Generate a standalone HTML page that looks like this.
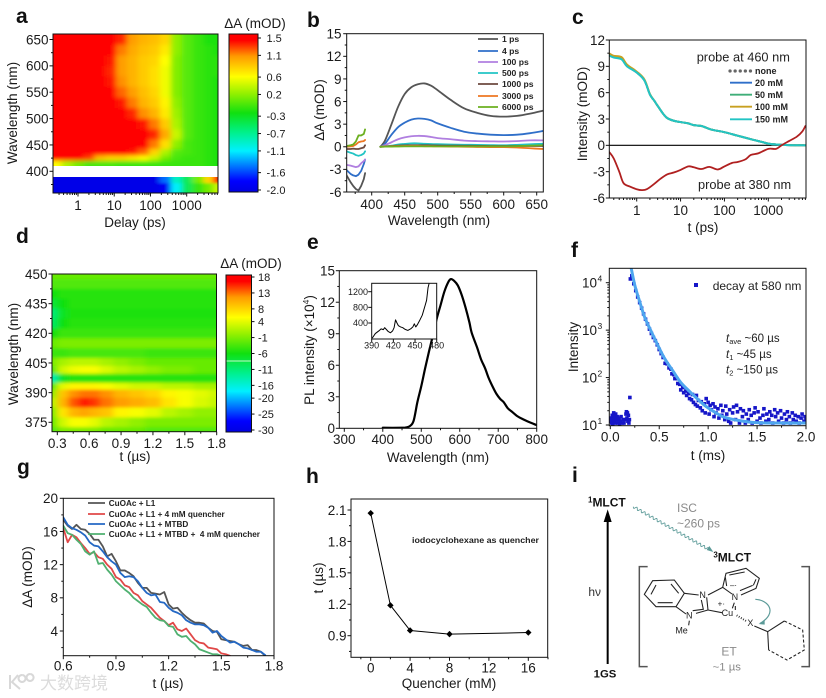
<!DOCTYPE html>
<html lang="en">
<head>
<meta charset="utf-8">
<title>Transient absorption figure</title>
<style>
html,body{margin:0;padding:0;background:#fff;}
svg{display:block;font-family:"Liberation Sans","Noto Sans CJK SC",sans-serif;fill:#1a1a1a;}
.tt{font-size:13.5px;text-anchor:middle;}
.pl{font-size:21px;font-weight:bold;fill:#111;}
.lg{font-weight:bold;fill:#222;white-space:pre;}
.an{fill:#222;}
</style>
</head>
<body>
<svg id="figure" xmlns="http://www.w3.org/2000/svg" width="826" height="698" viewBox="0 0 826 698">
<defs>
<filter id="softA" x="-5%" y="-5%" width="110%" height="110%"><feGaussianBlur stdDeviation="3 2.2"/></filter>
<filter id="softALow" x="-5%" y="-20%" width="110%" height="140%"><feGaussianBlur stdDeviation="3 1.2"/></filter>
<filter id="softD" x="-5%" y="-5%" width="110%" height="110%"><feGaussianBlur stdDeviation="3.5 1.6"/></filter>
<clipPath id="clipAUp"><rect x="53" y="34" width="165" height="132"/></clipPath>
<clipPath id="clipALow"><rect x="53" y="177" width="165" height="16"/></clipPath>
<clipPath id="clipD"><rect x="52" y="274" width="164.5" height="157.5"/></clipPath>
<clipPath id="clipB"><rect x="346.7" y="33.7" width="196.6" height="158.3"/></clipPath>
<clipPath id="clipC"><rect x="609.3" y="40" width="196.7" height="158"/></clipPath>
<clipPath id="clipE"><rect x="339.3" y="270.7" width="197.4" height="157.6"/></clipPath>
<clipPath id="clipInset"><rect x="371.7" y="283.3" width="65" height="55.7"/></clipPath>
<clipPath id="clipF"><rect x="609.3" y="268.3" width="196.7" height="158"/></clipPath>
<clipPath id="clipG"><rect x="63.3" y="498.3" width="210.7" height="157.4"/></clipPath>
<linearGradient id="rampA" x1="0" y1="1" x2="0" y2="0"></linearGradient>
<linearGradient id="rampD" x1="0" y1="1" x2="0" y2="0"></linearGradient>
</defs>

<g id="panelA">
<text class="pl" x="16" y="23">a</text>
<text class="tt" transform="translate(17,113) rotate(-90)">Wavelength (nm)</text>
<text class="tt" x="135" y="227">Delay (ps)</text>
<text class="tt" x="255" y="28">ΔA (mOD)</text>
</g>

<g id="panelB">
<text class="pl" x="307" y="27">b</text>
<text class="tt" transform="translate(324,110) rotate(-90)">ΔA (mOD)</text>
<text class="tt" x="439" y="225">Wavelength (nm)</text>
</g>

<g id="panelC">
<text class="pl" x="572" y="24">c</text>
<text class="tt" transform="translate(587,114) rotate(-90)">Intensity (mOD)</text>
<text class="tt" x="703" y="232">t (ps)</text>
<text class="an" x="696.7" y="61.5" font-size="12.8">probe at 460 nm</text>
<text class="an" x="698" y="189" font-size="12.8">probe at 380 nm</text>
</g>

<g id="panelD">
<text class="pl" x="16" y="243">d</text>
<text class="tt" transform="translate(18,354) rotate(-90)">Wavelength (nm)</text>
<text class="tt" x="135" y="461">t (µs)</text>
<text class="tt" x="251" y="268">ΔA (mOD)</text>
</g>

<g id="panelE">
<text class="pl" x="307" y="249">e</text>
<text class="tt" transform="translate(314,350) rotate(-90)">PL intensity (×10<tspan font-size="8.5" dy="-5">4</tspan><tspan dy="5">)</tspan></text>
<text class="tt" x="438" y="462">Wavelength (nm)</text>
</g>

<g id="panelF">
<text class="pl" x="571" y="257">f</text>
<text class="tt" transform="translate(578,347) rotate(-90)">Intensity</text>
<text class="tt" x="708" y="460">t (ms)</text>
<text class="an" x="712.7" y="290" font-size="12">decay at 580 nm</text>
<text class="an" x="726" y="342" font-size="11.5"><tspan font-style="italic">t</tspan><tspan font-size="7.5" dy="2">ave</tspan><tspan dy="-2"> ~60 µs</tspan></text>
<text class="an" x="726" y="358" font-size="11.5"><tspan font-style="italic">t</tspan><tspan font-size="7.5" dy="2">1</tspan><tspan dy="-2"> ~45 µs</tspan></text>
<text class="an" x="726" y="373.5" font-size="11.5"><tspan font-style="italic">t</tspan><tspan font-size="7.5" dy="2">2</tspan><tspan dy="-2"> ~150 µs</tspan></text>
</g>

<g id="panelG">
<text class="pl" x="17" y="474">g</text>
<text class="tt" transform="translate(32,577) rotate(-90)">ΔA (mOD)</text>
<text class="tt" x="168" y="688">t (µs)</text>
</g>

<g id="panelH">
<text class="pl" x="306" y="483">h</text>
<text class="tt" transform="translate(323,578) rotate(-90)">t (µs)</text>
<text class="tt" x="449" y="688">Quencher (mM)</text>
<text class="lg" x="412" y="543" font-size="7.8" textLength="127" lengthAdjust="spacingAndGlyphs">iodocyclohexane as quencher</text>
</g>

<g id="panelI">
<text class="pl" x="572" y="482">i</text>
<g transform="translate(556,460) scale(0.33333)">
<text x="96" y="140" font-size="36" font-weight="bold" fill="#111"><tspan font-size="24" dy="-12">1</tspan><tspan dy="12">MLCT</tspan></text>
<text x="472" y="304" font-size="36" font-weight="bold" fill="#111"><tspan font-size="24" dy="-12">3</tspan><tspan dy="12">MLCT</tspan></text>
<text x="113" y="652" font-size="34" font-weight="bold" fill="#111">1GS</text>
<text x="97" y="408" font-size="36" fill="#333">hν</text>
<text x="363" y="156" font-size="36" fill="#8a8a8a">ISC</text>
<text x="363" y="202" font-size="36" fill="#8a8a8a">~260 ps</text>
<text x="496" y="586" font-size="36" fill="#8a8a8a">ET</text>
<text x="470" y="632" font-size="34" fill="#8a8a8a">~1 µs</text>
<line x1="155" y1="612" x2="155" y2="175" stroke="#000" stroke-width="6"/>
<polygon points="155,148 143,186 167,186" fill="#000"/>
<path id="iscWave" fill="none" stroke="#5b9a98" stroke-width="2.6"/>
<polygon points="472,276 452,270 460,258" fill="#5b9a98"/>
<path d="M275,320 H250 V620 H275" fill="none" stroke="#555" stroke-width="4.5"/>
<path d="M736,320 H760 V620 H736" fill="none" stroke="#555" stroke-width="4.5"/>
<g fill="none" stroke="#222" stroke-width="3.2">
<polygon points="265,403 290,362 355,360 385,400 360,440 300,440"/>
<path d="M285,403 L300,375 M345,372 L368,400 M305,428 L350,428"/>
<path d="M385,400 L428,405 M452,412 L456,450 L420,460 M390,462 L360,440"/>
<path d="M436,420 L442,448 L410,452"/>
<path d="M456,405 L500,382 L510,340 L570,325 L610,355 L600,385 L555,405 M528,402 L500,382"/>
<path d="M520,345 L566,336 M600,358 L592,376 M512,378 L508,352 M552,392 L590,376"/>
<path d="M456,450 L498,458"/>
<path d="M535,428 L529,445 M538,438 L538,450"/>
<path d="M400,482 L398,496"/>
<path d="M595,498 L635,515 L685,483"/>
<path d="M635,515 L638,570"/>
<path d="M685,483 L740,510 L745,570 L693,600 L638,570" stroke-dasharray="9 6"/>
<path d="M542,466 L572,484" stroke-dasharray="2.5 5" stroke-width="6"/>
</g>
<path d="M598,418 C640,420 665,460 612,490" fill="none" stroke="#5b9a98" stroke-width="3.5"/>
<polygon points="608,492 626,480 626,494" fill="#5b9a98"/>
<g font-size="27" fill="#222">
<text x="430" y="414">N</text>
<text x="527" y="420">N</text>
<text x="390" y="476">N</text>
<text x="497" y="468">Cu</text>
<text x="574" y="498">X</text>
<text x="358" y="520">Me</text>
<text x="485" y="440" font-size="24">+·</text>
<text x="522" y="384" font-size="24">–·</text>
</g>
</g>
</g>

<g id="watermark">
<path d="M10,675 V689 M18,675 L12,682 L20,689 M22,675 a3.5,3.5 0 1 0 0.1,0 M30,674 a3.5,3.5 0 1 0 0.1,0" fill="none" stroke="#d8d8d8" stroke-width="2"/>
<text x="40" y="689" font-size="17" fill="#dcdcdc" font-family="'Noto Sans CJK SC',sans-serif">大数跨境</text>
</g>
</svg>

<script>
/* ---------- shared colour ramp ---------- */
const rampStops = [0, .07, .26, .38, .5, .62, .73, .86, .96, 1];
const rampColors = ['#0000e0','#0000ff','#00f0ff','#00f088','#10e010','#90f000','#ffff00','#ff9900','#ff0000','#ff0000'];

/* ---------- panel a data ---------- */
const aDelays = [.25,.5,1,2,4,8,16,32,64,128,256,512,1024,2048,4096,7000];
const aUpperWavelengths = [650,630,610,590,570,550,530,510,490,470,450,435,425,415];
const aUpperValues = [
[1.5,1.5,1.5,1.5,1.5,1.6,1.35,1.05,.95,.9,.8,.2,0,-.1,-.2,-.2],
[1.5,1.5,1.5,1.5,1.5,1.5,1.15,1.0,.9,.85,.7,.2,0,-.1,-.15,-.2],
[1.5,1.5,1.5,1.5,1.5,1.4,1.05,.95,.85,.8,.6,.15,0,-.1,-.15,-.15],
[1.5,1.5,1.5,1.5,1.5,1.35,1.05,.95,.85,.75,.55,.15,0,-.1,-.15,-.15],
[1.5,1.5,1.5,1.5,1.5,1.4,1.1,.95,.85,.75,.55,.15,0,-.1,-.15,-.2],
[1.5,1.5,1.5,1.5,1.5,1.6,1.2,1.05,.9,.8,.55,.15,0,-.1,-.15,-.2],
[1.5,1.5,1.5,1.5,1.5,1.6,1.4,1.15,.95,.85,.65,.2,0,-.1,-.15,-.2],
[1.5,1.5,1.5,1.5,1.5,1.6,1.6,1.35,1.1,.95,.7,.25,0,-.1,-.15,-.2],
[1.5,1.5,1.5,1.5,1.5,1.6,1.6,1.6,1.4,1.15,.85,.3,0,-.1,-.15,-.2],
[1.5,1.5,1.5,1.5,1.5,1.6,1.6,1.6,1.6,1.35,1.0,.4,0,-.1,-.15,-.2],
[1.5,1.5,1.5,1.5,1.5,1.6,1.6,1.6,1.45,1.15,.75,.2,-.05,-.1,-.15,-.2],
[1.5,1.5,1.5,1.5,1.5,1.6,1.6,1.4,1.2,.8,.3,0,-.05,-.1,-.15,-.2],
[1.6,1.6,1.6,1.3,.9,.8,.8,.7,.6,.4,.1,-.05,-.1,-.1,-.15,-.2],
[.6,.3,.1,-.05,-.05,-.05,-.1,-.1,-.1,-.1,-.1,-.1,-.1,-.1,-.15,-.2]
];
const aLowerWavelengths = [385,370];
const aLowerValues = [
[-2,-2,-2,-2,-2,-2,-2,-2,-2,-2,-1.5,-.9,-.5,.1,.8,1.6],
[-2,-2,-2,-2,-2,-2,-2,-2,-2,-2,-1.9,-1.1,-.5,-.1,.1,.4]
];
const aXTicks = [1,10,100,1000];
const aXLabels = ['1','10','100','1000'];
const aYTicks = [650,600,550,500,450,400];
const aYLabels = ['650','600','550','500','450','400'];
const aBarTicks = [1.5,1.1,.6,.2,-.3,-.7,-1.1,-1.6,-2.0];
const aBarLabels = ['1.5','1.1','0.6','0.2','-0.3','-0.7','-1.1','-1.6','-2.0'];

/* ---------- panel b data ---------- */
const bUvWave = [362,368,372,376,380,384,388,390];
const bVisWave = [413,420,430,440,450,460,470,480,490,500,520,540,560,580,600,620,640,660];
const bNames = ['1 ps','4 ps','100 ps','500 ps','1000 ps','3000 ps','6000 ps'];
const bColors = ['#555555','#2f6fc9','#b07fe0','#22c4c4','#6d4a3f','#ee7722','#6cb020'];
const bUv1 = [-3.8,-4.7,-5.2,-5.6,-5.8,-5.2,-4.3,-3.5];
const bUv4 = [-3.1,-3.6,-3.8,-3.9,-3.7,-3.2,-2.3,-1.7];
const bUv100 = [-2.4,-2.5,-2.6,-2.7,-2.6,-2.2,-1.9,-1.7];
const bUv500 = [-.6,-.8,-.9,-1.1,-1.2,-1.1,-.9,-.6];
const bUv1000 = [-.3,-.3,-.25,-.3,-.3,-.2,-.1,.2];
const bUv3000 = [0,.05,.1,.3,.6,.7,.75,.9];
const bUv6000 = [.1,.2,.3,.7,1.5,1.5,1.7,2.3];
const bVis1 = [0,.8,3,5.3,7,7.9,8.3,8.4,8.1,7.5,6.2,5.1,4.5,4.1,4.0,4.1,4.4,4.8];
const bVis4 = [0,.4,1.6,2.6,3.2,3.6,3.75,3.7,3.5,3.1,2.5,2,1.75,1.6,1.55,1.6,1.8,2.1];
const bVis100 = [0,.2,.6,1,1.25,1.4,1.45,1.42,1.3,1.15,1,.82,.75,.72,.7,.75,.85,.85];
const bVis500 = [0,.05,.15,.3,.38,.45,.45,.4,.36,.34,.3,.27,.25,.22,.2,.25,.33,.4];
const bVis1000 = [0,.05,.1,.15,.18,.2,.2,.2,.18,.17,.15,.13,.12,.1,.1,.1,.1,.1];
const bVis3000 = [0,.03,.06,.08,.1,.1,.1,.08,.07,.05,.03,0,-.02,-.04,-.05,-.1,-.2,-.3];
const bVis6000 = [0,.02,.03,.04,.05,.05,.05,.05,.05,.05,.05,.05,.05,.05,.05,.08,.15,.2];
const bXTicks = [400,450,500,550,600,650];
const bXLabels = ['400','450','500','550','600','650'];
const bYTicks = [15,12,9,6,3,0,-3,-6];
const bYLabels = ['15','12','9','6','3','0','-3','-6'];

/* ---------- panel c data ---------- */
const cTimes = [.24,.3,.45,.6,1,1.5,2,2.5,3,4,5,7,10,15,20,30,50,100,200,400,700,1000,1500,3000,7000];
const cNone = [10.3,10.1,9.9,9.1,8.35,7.4,5.8,5.1,4.5,3.6,3.1,2.8,2.65,2.5,2.3,2.2,1.8,1.5,1.1,.7,.4,.2,.1,.03,0];
const c20mM = [10.25,10.05,9.85,9.05,8.3,7.4,5.8,5.1,4.5,3.6,3.1,2.8,2.65,2.5,2.3,2.2,1.8,1.5,1.1,.7,.4,.2,.1,.03,0];
const c50mM = [10.3,10.1,9.9,9.1,8.3,7.4,5.8,5.1,4.5,3.6,3.1,2.8,2.65,2.5,2.3,2.2,1.8,1.5,1.1,.7,.4,.2,.1,.03,0];
const c100mM = [10.45,10.2,10.05,9.2,8.4,7.5,5.85,5.1,4.5,3.6,3.1,2.8,2.65,2.5,2.3,2.2,1.8,1.5,1.1,.7,.4,.2,.1,.03,0];
const c150mM = [10.2,10.0,9.8,9.0,8.3,7.4,5.8,5.1,4.5,3.6,3.1,2.8,2.65,2.5,2.3,2.2,1.8,1.5,1.1,.7,.4,.2,.1,.03,0];
const cProbeTimes = [.24,.3,.4,.5,.7,1,1.3,1.7,2.5,3.5,5,7,10,15,20,30,45,70,100,150,200,300,400,600,1000,1500,2000,3000,4500,6000,7000];
const cProbe380 = [-.8,-1.5,-3,-4.3,-4.7,-5,-5.1,-5,-4.4,-3.8,-3.3,-3.1,-2.8,-2.4,-2.5,-2.7,-2.45,-2.75,-2.4,-2,-1.9,-1.6,-1.1,-.9,-.4,-.4,0,.5,1,1.6,2.2];
const cNames = ['none','20 mM','50 mM','100 mM','150 mM'];
const cColors = ['#666666','#2f6fc9','#3fae78','#c8a020','#22c4c4'];
const cXTicks = [1,10,100,1000];
const cXLabels = ['1','10','100','1000'];
const cYTicks = [12,9,6,3,0,-3,-6];
const cYLabels = ['12','9','6','3','0','-3','-6'];

/* ---------- panel d data ---------- */
const dTimes = [.25,.35,.45,.55,.65,.75,.9,1.05,1.2,1.35,1.5,1.65,1.8];
const dWavelengths = [450,445,440,435,430,425,420,415,410,405,402,397,393,390,385,380,375,370];
const dValues = [
[-2,-2,-2,-2,-2,-2,-2,-2,-2,-2,-2,-2,-2],
[-3,-3,-3,-3,-3,-3,-3,-3,-3,-3,-3,-3,-3],
[-6,-5,-5,-5,-5,-5,-5,-5,-5,-5,-5,-5,-5],
[-8,-6,-5,-5,-5,-5,-5,-5,-5,-5,-5,-5,-5],
[-11,-7,-5.5,-5.5,-5.5,-5.5,-5.5,-5.5,-5.5,-5.5,-5.5,-5.5,-5.5],
[-10,-6,-5,-5,-5,-5,-5,-5,-5,-5,-5,-5,-5],
[-6,-4,-4,-4,-4,-4,-4,-4,-4,-4,-4,-4,-4],
[-2,-1,-1,-1,-1,-1,-1,-1,-1,-1,-1,-1,-1],
[-4,-4,-3.5,-3.5,-3.5,-3.5,-3.5,-3.5,-4,-4,-4,-4,-4],
[-1,1,2,2,2,1,0,-1,-2,-2,-2,-2,-2],
[-3,3,4.5,5,5,3.5,2,1,0,-1,-1,-2,-2],
[-14,-7,-5,-5,-5,-5,-5,-5,-5,-5,-5,-5,-5],
[-3,4,6,6,6,5,4,3,3,2,2,1,1],
[0,9,12,13,13,12,10,9,8,6,5,4,3],
[2,10,14,16,15,13,11.5,10.5,9.5,7,5,3.5,2.5],
[-1,7,10,11,10,9,6,5,4,2,1,0,0],
[-2,3,5,5,4,2,1,0,-1,-1,-1,-1,-1],
[-3,-1,-1,-1,-1,-2,-2,-2,-3,-3,-3,-3,-3]
];
const dXTicks = [.3,.6,.9,1.2,1.5,1.8];
const dXLabels = ['0.3','0.6','0.9','1.2','1.5','1.8'];
const dYTicks = [450,435,420,405,390,375];
const dYLabels = ['450','435','420','405','390','375'];
const dBarTicks = [18,13,8,4,-1,-6,-11,-16,-20,-25,-30];
const dBarLabels = ['18','13','8','4','-1','-6','-11','-16','-20','-25','-30'];

/* ---------- panel e data ---------- */
const eWave = [400,450,460,470,480,490,500,510,520,530,540,550,560,570,577,585,595,605,615,625,631,645,655,666,675,685,695,705,714,725,735,750,765,780,800];
const eIntensity = [.05,.05,.08,.2,.7,2.5,4,5.7,7.3,8.8,10.4,11.7,13,13.9,14.2,14.05,13.6,12.7,11.5,10.1,9.1,7.7,6.6,5.7,4.8,4,3.3,2.8,2.5,1.9,1.6,1.15,.85,.6,.3];
const eInsetWave = [391,395,400,403,406,408,410,413,416,419,421,423,425,427,430,433,436,440,444,447,449,451,453,456,460,464,466,468,470,472];
const eInsetValue = [20,130,200,250,230,280,240,180,150,200,280,480,400,330,300,280,240,210,250,300,380,300,350,450,600,850,980,1300,1450,1600];
const eXTicks = [300,400,500,600,700,800];
const eXLabels = ['300','400','500','600','700','800'];
const eYTicks = [15,12,9,6,3,0];
const eYLabels = ['15','12','9','6','3','0'];
const eInsetXTicks = [390,420,450,480];
const eInsetXLabels = ['390','420','450','480'];
const eInsetYTicks = [1200,800,400];
const eInsetYLabels = ['1200','800','400'];

/* ---------- panel f data ---------- */
const fPointTimes = [.005,.01,.015,.02,.025,.03,.035,.04,.045,.05,.055,.06,.07,.075,.08,.09,.095,.10,.11,.12,.13,.14,.15,.16,.165,.17,.175,.18,.185,.19,.195,.2,.205,
.22,.24,.26,.28,.30,.32,.34,.36,.38,.40,.42,.44,.46,.48,.50,.52,.54,.56,.58,.60,.62,.63,.65,.66,.68,.69,.71,.72,.74,.75,.77,.78,.80,.81,.83,.84,.85,.87,.88,.89,.90,.92,.93,.94,.96,.97,.98,
1.0,1.01,1.02,1.03,1.05,1.06,1.07,1.08,1.10,1.11,1.13,1.14,1.15,1.17,1.18,1.19,1.21,1.22,1.23,1.25,1.26,1.28,1.29,1.30,1.32,1.33,1.35,1.36,1.38,1.39,1.41,1.42,1.44,1.45,1.47,1.48,1.50,1.51,1.53,1.54,1.56,1.57,1.59,1.60,1.62,1.63,1.65,1.66,1.68,1.69,1.71,1.72,1.74,1.75,1.77,1.78,1.80,1.81,1.83,1.84,1.86,1.87,1.89,1.90,1.92,1.93,1.95,1.96,1.98,1.99,2.0];
const fPointCounts = [12,14,11,16,10.5,13,18,12,15,11,17,13,15,11,13,14,10.5,12,15,11,13,11,13,17,19,14,18,12,16,11,13,38,12000,
14000,9500,6800,5000,3800,2900,2200,1700,1350,1050,850,700,600,490,390,320,265,200,195,160,150,120,115,95,95,75,72,55,62,48,52,42,46,36,34,44,30,27,42,25,33,23,31,20,28,18,36,
30,17,26,21,28,15,24,18,22,14,26,16,20,13,25,17,12,21,11,18,24,13,26,19,11,22,15,20,11,17,13,21,16,11,18,23,12,19,14,11,16,22,12,17,13,19,16,11,21,15,18,12,20,14,11,17,13,19,15,11,18,13,16,12,15,11,14,17,12,15,13];
const fFitTimes = [.21,.25,.3,.35,.4,.47,.55,.64,.72,.81,.9,.98,1.07,1.15,1.3,1.49,1.75,2.0];
const fFitCounts = [22000,8900,4000,1900,1120,560,263,138,79,51,34,24.5,18.6,15,12.6,11.2,11,11];
const fXTicks = [0,.5,1,1.5,2];
const fXLabels = ['0.0','0.5','1.0','1.5','2.0'];
const fYTicks = [10000,1000,100,10];
const fYExponents = ['4','3','2','1'];

/* ---------- panel g data ---------- */
const gTimes = [.6,.625,.65,.675,.7,.725,.75,.775,.8,.825,.85,.875,.9,.925,.95,.975,1,1.025,1.05,1.075,1.1,1.125,1.15,1.175,1.2,1.225,1.25,1.275,1.3,1.325,1.35,1.375,1.4,1.425,1.45,1.475,1.5,1.525,1.55,1.575,1.6,1.625,1.65,1.675,1.7,1.725,1.75];
const gBlack = [17.4,16.7,16.3,16.8,16.3,16.2,15.7,15.0,15.0,14.2,13.0,13.3,12.4,11.3,11.3,11.0,10.6,9.8,9.2,9.2,8.6,8.5,8.4,8.7,7.2,6.7,6.8,6.2,5.7,5.3,5.0,5.0,4.9,4.4,4.0,3.9,3.0,2.9,2.8,2.7,2.4,2.2,2.3,1.7,1.7,1.5,1.0];
const gRed = [16.4,14.7,15.6,15.3,14.6,14.0,13.3,13.5,12.9,12.7,12.0,11.5,10.5,10.2,9.5,9.3,8.6,8.3,7.6,7.2,6.8,6.2,5.6,5.2,4.7,5.0,4.2,4.0,4.3,3.6,2.9,2.6,2.5,2.0,1.9,1.8,1.3,1.2,1.0];
const gBlue = [17.7,16.8,16.4,16.2,15.9,15.5,14.7,14.3,14.2,13.6,12.9,12.4,12.0,11.0,10.5,10.6,10.5,10.0,9.2,8.6,8.3,8.4,7.5,7.4,6.8,6.4,6.2,5.9,5.3,5.0,4.8,4.8,4.7,4.4,3.8,4.0,3.4,3.0,2.6,2.7,2.4,2.0,1.9,1.7,1.5,1.5,1.1];
const gGreen = [16.7,15.8,15.6,15.0,14.5,13.6,13.2,13.6,12.1,12.2,11.4,10.8,10.0,9.5,9.0,8.6,8.0,7.6,7.2,6.9,6.2,5.6,5.3,5.2,4.6,4.5,3.6,3.3,3.4,2.8,2.4,1.8,1.6,1.4,1.2,1.2,1.0];
const gNames = ['CuOAc + L1','CuOAc + L1 + 4 mM quencher','CuOAc + L1 + MTBD','CuOAc + L1 + MTBD +  4 mM quencher'];
const gColors = ['#555555','#e04848','#2468c4','#4fb070'];
const gXTicks = [.6,.9,1.2,1.5,1.8];
const gXLabels = ['0.6','0.9','1.2','1.5','1.8'];
const gYTicks = [20,16,12,8,4];
const gYLabels = ['20','16','12','8','4'];

/* ---------- panel h data ---------- */
const hQuencher = [0,2,4,8,16];
const hLifetime = [2.07,1.19,.95,.915,.93];
const hXTicks = [0,4,8,12,16];
const hXLabels = ['0','4','8','12','16'];
const hYTicks = [2.1,1.8,1.5,1.2,.9];
const hYLabels = ['2.1','1.8','1.5','1.2','0.9'];

/* ---------- helpers ---------- */
const NS = 'http://www.w3.org/2000/svg';
function mk(parent, tag, attrs, name, content) {
  const el = document.createElementNS(NS, tag);
  for (const k in attrs) el.setAttribute(k, attrs[k]);
  
  
  if (content !== undefined) el.textContent = content;
  parent.appendChild(el);
  return el;
}
function linear(d0, d1, r0, r1) { return v => r0 + (v - d0) * (r1 - r0) / (d1 - d0); }
function logScale(d0, d1, r0, r1) { return v => r0 + (Math.log10(v) - Math.log10(d0)) * (r1 - r0) / (Math.log10(d1) - Math.log10(d0)); }
function frame(g, x0, y0, x1, y1, name) {
  mk(g, 'rect', {x:x0, y:y0, width:x1-x0, height:y1-y0, fill:'none', stroke:'#111', 'stroke-width':1}, name);
}
function xAxis(g, sc, ticks, labels, minors, yBase, labelY, size, pfx) {
  minors.forEach(v => mk(g, 'line', {x1:sc(v), x2:sc(v), y1:yBase, y2:yBase+2, stroke:'#111'}, pfx+'-x-minor-tick'));
  ticks.forEach((v, i) => {
    mk(g, 'line', {x1:sc(v), x2:sc(v), y1:yBase, y2:yBase+3.5, stroke:'#111'}, pfx+'-x-tick');
    mk(g, 'text', {x:sc(v), y:labelY, 'font-size':size, 'text-anchor':'middle'}, pfx+'-x-tick-label', labels[i]);
  });
}
function yAxis(g, sc, ticks, labels, minors, xBase, labelX, size, pfx) {
  minors.forEach(v => mk(g, 'line', {x1:xBase-2, x2:xBase, y1:sc(v), y2:sc(v), stroke:'#111'}, pfx+'-y-minor-tick'));
  ticks.forEach((v, i) => {
    mk(g, 'line', {x1:xBase-3.5, x2:xBase, y1:sc(v), y2:sc(v), stroke:'#111'}, pfx+'-y-tick');
    mk(g, 'text', {x:labelX, y:sc(v)+size*.36, 'font-size':size, 'text-anchor':'end'}, pfx+'-y-tick-label', labels[i]);
  });
}
function linePath(xs, ys, sx, sy) {
  return ys.map((v, i) => (i ? 'L' : 'M') + sx(xs[i]).toFixed(2) + ',' + sy(v).toFixed(2)).join(' ');
}
function smoothPath(xs, ys, sx, sy) {
  const p = ys.map((v, i) => [sx(xs[i]), sy(v)]);
  let d = 'M' + p[0][0].toFixed(2) + ',' + p[0][1].toFixed(2);
  for (let i = 0; i < p.length - 1; i++) {
    const a = p[Math.max(0, i-1)], b = p[i], c = p[i+1], e = p[Math.min(p.length-1, i+2)];
    const c1x = b[0] + (c[0]-a[0])/6, c1y = b[1] + (c[1]-a[1])/6;
    const c2x = c[0] - (e[0]-b[0])/6, c2y = c[1] - (e[1]-b[1])/6;
    d += ' C' + c1x.toFixed(2) + ',' + c1y.toFixed(2) + ' ' + c2x.toFixed(2) + ',' + c2y.toFixed(2) + ' ' + c[0].toFixed(2) + ',' + c[1].toFixed(2);
  }
  return d;
}
function series(g, xs, ys, sx, sy, color, width, name, extra) {
  const attrs = {d:linePath(xs, ys, sx, sy), fill:'none', stroke:color, 'stroke-width':width, 'stroke-linejoin':'round', 'stroke-linecap':'round'};
  Object.assign(attrs, extra || {});
  return mk(g, 'path', attrs, name);
}
function curve(g, xs, ys, sx, sy, color, width, name, extra) {
  const attrs = {d:smoothPath(xs, ys, sx, sy), fill:'none', stroke:color, 'stroke-width':width, 'stroke-linejoin':'round', 'stroke-linecap':'round'};
  Object.assign(attrs, extra || {});
  return mk(g, 'path', attrs, name);
}
function rampColor(t) {
  t = Math.max(0, Math.min(1, t));
  let i = 0;
  while (i < rampStops.length - 2 && t > rampStops[i+1]) i++;
  const f = (t - rampStops[i]) / (rampStops[i+1] - rampStops[i]);
  const a = rampColors[i], b = rampColors[i+1];
  const ch = p => Math.round(parseInt(a.substr(p,2),16)*(1-f) + parseInt(b.substr(p,2),16)*f);
  return 'rgb(' + ch(1) + ',' + ch(3) + ',' + ch(5) + ')';
}
function edges(vals, sc) {
  const px = vals.map(sc), out = [];
  for (let i = 0; i <= px.length; i++) {
    if (i === 0) out.push(px[0] - (px[1] - px[0]) / 2 - Math.sign(px[1]-px[0]) * 14);
    else if (i === px.length) out.push(px[i-1] + (px[i-1] - px[i-2]) / 2 + Math.sign(px[1]-px[0]) * 14);
    else out.push((px[i-1] + px[i]) / 2);
  }
  return out;
}
function heatmap(parent, xs, ys, matrix, sx, sy, toT, clipId, filterId, name) {
  const clip = mk(parent, 'g', {'clip-path':'url(#'+clipId+')'}, name + '-clip');
  const g = mk(clip, 'g', {filter:'url(#'+filterId+')'}, name);
  const xe = edges(xs, sx), ye = edges(ys, sy);
  matrix.forEach((row, r) => row.forEach((v, c) => {
    mk(g, 'rect', {x:xe[c], y:ye[r], width:xe[c+1]-xe[c]+.5, height:ye[r+1]-ye[r]+.5, fill:rampColor(toT(v))}, name + '-cell');
  }));
}
function colorbar(g, gradId, x, y, w, h, sc, ticks, labels, labelX, pfx) {
  mk(g, 'rect', {x:x, y:y, width:w, height:h, fill:'url(#'+gradId+')', stroke:'#111', 'stroke-width':1}, pfx+'-colorbar');
  ticks.forEach((v, i) => {
    mk(g, 'line', {x1:x+w, x2:x+w+3, y1:sc(v), y2:sc(v), stroke:'#111'}, pfx+'-colorbar-tick');
    mk(g, 'text', {x:labelX, y:sc(v)+4, 'font-size':11}, pfx+'-colorbar-label', labels[i]);
  });
}
function logMinors(lo, hi) {
  const out = [];
  for (let d = lo; d <= hi; d *= 10) for (let m = 2; m < 10; m++) out.push(d * m);
  return out;
}
['rampA','rampD'].forEach(id => {
  const grad = document.getElementById(id);
  rampStops.forEach((s, i) => {
    const st = document.createElementNS(NS, 'stop');
    st.setAttribute('offset', s);
    st.setAttribute('stop-color', rampColors[i]);
    grad.appendChild(st);
  });
});

/* ---------- panel a ---------- */
(function () {
  const g = document.getElementById('panelA');
  const sx = logScale(1, 1000, 78, 186.7);
  const sy = linear(650, 400, 39.5, 171.3);
  const toT = v => (v + 2.07) / 3.66;
  heatmap(g, aDelays, aUpperWavelengths, aUpperValues, sx, sy, toT, 'clipAUp', 'softA', 'a-heatmap-upper');
  heatmap(g, aDelays, aLowerWavelengths, aLowerValues, sx, sy, toT, 'clipALow', 'softALow', 'a-heatmap-lower');
  frame(g, 53, 34, 218, 193, 'a-plot-frame');
  xAxis(g, sx, aXTicks, aXLabels, logMinors(.1, 1000).filter(v => v > .21 && v < 7200), 193, 210, 13.5, 'a');
  yAxis(g, sy, aYTicks, aYLabels, [625,575,525,475,425,375], 53, 48.5, 13.5, 'a');
  const sb = linear(1.5, -2.0, 38, 190);
  colorbar(g, 'rampA', 229, 34, 29, 158, sb, aBarTicks, aBarLabels, 266.5, 'a');
})();

/* ---------- panel b ---------- */
(function () {
  const g = document.getElementById('panelB');
  const sx = linear(400, 650, 371.7, 536.7);
  const sy = linear(15, -6, 33.7, 192);
  const clip = mk(g, 'g', {'clip-path':'url(#clipB)'}, 'b-series-group');
  const uv = [bUv1,bUv4,bUv100,bUv500,bUv1000,bUv3000,bUv6000];
  const vis = [bVis1,bVis4,bVis100,bVis500,bVis1000,bVis3000,bVis6000];
  uv.forEach((vals, i) => series(clip, bUvWave, vals, sx, sy, bColors[i], 1.8, 'b-uv-line-' + i));
  vis.forEach((vals, i) => curve(clip, bVisWave, vals, sx, sy, bColors[i], 1.8, 'b-vis-line-' + i));
  frame(g, 346.7, 33.7, 543.3, 192, 'b-plot-frame');
  xAxis(g, sx, bXTicks, bXLabels, [375,425,475,525,575,625], 192, 209, 13.5, 'b');
  yAxis(g, sy, bYTicks, bYLabels, [13.5,10.5,7.5,4.5,1.5,-1.5,-4.5], 346.7, 341.5, 13.5, 'b');
  const ly = [39,51,62,73,84,96,107];
  bNames.forEach((n, i) => {
    mk(g, 'line', {x1:478, x2:498, y1:ly[i], y2:ly[i], stroke:bColors[i], 'stroke-width':1.8}, 'b-legend-line');
    mk(g, 'text', {x:502, y:ly[i]+3, 'font-size':8.6, class:'lg'}, 'b-legend-label', n);
  });
})();

/* ---------- panel c ---------- */
(function () {
  const g = document.getElementById('panelC');
  const sx = logScale(1, 1000, 636.7, 768.3);
  const sy = linear(12, -6, 40, 198);
  const clip = mk(g, 'g', {'clip-path':'url(#clipC)'}, 'c-series-group');
  mk(clip, 'line', {x1:609.3, x2:806, y1:sy(0), y2:sy(0), stroke:'#000', 'stroke-width':1.1}, 'c-zero-line');
  const set = [cNone,c20mM,c50mM,c100mM,c150mM];
  set.forEach((vals, i) => curve(clip, cTimes, vals, sx, sy, cColors[i], 2, 'c-line-' + cNames[i].replace(' ', '-'),
    i === 0 ? {'stroke-dasharray':'1 3'} : {}));
  curve(clip, cProbeTimes, cProbe380, sx, sy, '#b02020', 1.8, 'c-line-probe-380');
  frame(g, 609.3, 40, 806, 198, 'c-plot-frame');
  xAxis(g, sx, cXTicks, cXLabels, logMinors(.1, 1000).filter(v => v > .24 && v < 7100), 198, 215, 13.5, 'c');
  yAxis(g, sy, cYTicks, cYLabels, [10.5,7.5,4.5,1.5,-1.5,-4.5], 609.3, 605, 13.5, 'c');
  const ly = [71,82.7,94.7,106.7,119.3];
  cNames.forEach((n, i) => {
    mk(g, 'line', i === 0
      ? {x1:730, x2:752, y1:ly[i], y2:ly[i], stroke:cColors[i], 'stroke-width':3.2, 'stroke-dasharray':'0.1 5', 'stroke-linecap':'round'}
      : {x1:730, x2:752, y1:ly[i], y2:ly[i], stroke:cColors[i], 'stroke-width':1.8}, 'c-legend-line');
    mk(g, 'text', {x:755, y:ly[i]+3.2, 'font-size':9, class:'lg'}, 'c-legend-label', n);
  });
})();

/* ---------- panel d ---------- */
(function () {
  const g = document.getElementById('panelD');
  const sx = linear(.3, 1.8, 57.3, 216.7);
  const sy = linear(450, 375, 274, 422.3);
  const toT = v => (v + 30.7) / 49.4;
  heatmap(g, dTimes, dWavelengths, dValues, sx, sy, toT, 'clipD', 'softD', 'd-heatmap');
  frame(g, 52, 274, 216.5, 431.7, 'd-plot-frame');
  xAxis(g, sx, dXTicks, dXLabels, [.45,.75,1.05,1.35,1.65], 431.7, 448, 13.5, 'd');
  yAxis(g, sy, dYTicks, dYLabels, [442.5,427.5,412.5,397.5,382.5], 52, 47.5, 13.5, 'd');
  const sb = linear(18, -30, 277, 430);
  colorbar(g, 'rampD', 226, 275, 25.5, 157, sb, dBarTicks, dBarLabels, 258, 'd');
  mk(g, 'line', {x1:226.5, x2:251, y1:361, y2:361, stroke:'#fff', 'stroke-width':.8}, 'd-colorbar-gap');
})();

/* ---------- panel e ---------- */
(function () {
  const g = document.getElementById('panelE');
  const sx = linear(300, 800, 344.3, 536.7);
  const sy = linear(15, 0, 270.7, 428.3);
  const clip = mk(g, 'g', {'clip-path':'url(#clipE)'}, 'e-series-group');
  curve(clip, eWave, eIntensity, sx, sy, '#000', 2.2, 'e-pl-curve');
  frame(g, 339.3, 270.7, 536.7, 428.3, 'e-plot-frame');
  xAxis(g, sx, eXTicks, eXLabels, [350,450,550,650,750], 428.3, 444, 13.5, 'e');
  yAxis(g, sy, eYTicks, eYLabels, [13.5,10.5,7.5,4.5,1.5], 339.3, 335, 13.5, 'e');
  const ix = linear(390, 480, 371.7, 436.7);
  const iy = linear(1200, 400, 291.7, 323);
  mk(g, 'rect', {x:371.7, y:283.3, width:65, height:55.7, fill:'#fff'}, 'e-inset-background');
  const iclip = mk(g, 'g', {'clip-path':'url(#clipInset)'}, 'e-inset-series-group');
  series(iclip, eInsetWave, eInsetValue, ix, iy, '#000', 1, 'e-inset-curve');
  frame(g, 371.7, 283.3, 436.7, 339, 'e-inset-frame');
  xAxis(g, ix, eInsetXTicks, eInsetXLabels, [], 339, 348.5, 9, 'e-inset');
  yAxis(g, iy, eInsetYTicks, eInsetYLabels, [], 371.7, 368, 9, 'e-inset');
})();

/* ---------- panel f ---------- */
(function () {
  const g = document.getElementById('panelF');
  const sx = linear(0, 2, 610.3, 806);
  const sy = logScale(10, 10000, 425, 282.7);
  const clip = mk(g, 'g', {'clip-path':'url(#clipF)'}, 'f-series-group');
  fPointCounts.forEach((v, i) => {
    mk(clip, 'rect', {x:sx(fPointTimes[i])-1.8, y:sy(v)-1.8, width:3.6, height:3.6, fill:'#1616c8'}, 'f-decay-point');
  });
  curve(clip, fFitTimes, fFitCounts, sx, sy, '#4ea6ee', 3, 'f-fit-curve');
  frame(g, 609.3, 268.3, 806, 425.7, 'f-plot-frame');
  xAxis(g, sx, fXTicks, fXLabels, [.25,.75,1.25,1.75], 425.7, 441.5, 13.5, 'f');
  fYTicks.forEach((v, i) => {
    mk(g, 'line', {x1:605.8, x2:609.3, y1:sy(v), y2:sy(v), stroke:'#111'}, 'f-y-tick');
    mk(g, 'text', {x:597, y:sy(v)+5, 'font-size':13.5, 'text-anchor':'end'}, 'f-y-tick-label', '10');
    mk(g, 'text', {x:597.5, y:sy(v)-1, 'font-size':8.5}, 'f-y-tick-exponent', fYExponents[i]);
  });
  logMinors(10, 10000).filter(v => v < 20000).forEach(v => {
    mk(g, 'line', {x1:607.3, x2:609.3, y1:sy(v), y2:sy(v), stroke:'#111'}, 'f-y-minor-tick');
  });
  mk(g, 'rect', {x:694, y:283, width:4, height:4, fill:'#1616c8'}, 'f-legend-marker');
})();

/* ---------- panel g ---------- */
(function () {
  const g = document.getElementById('panelG');
  const sx = linear(.6, 1.8, 63.3, 274);
  const sy = linear(20, 4, 498.3, 631);
  const clip = mk(g, 'g', {'clip-path':'url(#clipG)'}, 'g-series-group');
  series(clip, gTimes.slice(0, gBlack.length), gBlack, sx, sy, gColors[0], 1.8, 'g-line-cuoac-l1');
  series(clip, gTimes.slice(0, gRed.length), gRed, sx, sy, gColors[1], 1.8, 'g-line-quencher');
  series(clip, gTimes.slice(0, gBlue.length), gBlue, sx, sy, gColors[2], 1.8, 'g-line-mtbd');
  series(clip, gTimes.slice(0, gGreen.length), gGreen, sx, sy, gColors[3], 1.8, 'g-line-mtbd-quencher');
  frame(g, 63.3, 498.3, 274, 655.7, 'g-plot-frame');
  xAxis(g, sx, gXTicks, gXLabels, [.75,1.05,1.35,1.65], 655.7, 670.5, 13.5, 'g');
  yAxis(g, sy, gYTicks, gYLabels, [18,14,10,6,2], 63.3, 58, 13.5, 'g');
  const ly = [503,514,524,534];
  gNames.forEach((n, i) => {
    mk(g, 'line', {x1:88, x2:105, y1:ly[i], y2:ly[i], stroke:gColors[i], 'stroke-width':1.8}, 'g-legend-line');
    mk(g, 'text', {x:108.7, y:ly[i]+3, 'font-size':8.2, class:'lg'}, 'g-legend-label', n);
  });
})();

/* ---------- panel h ---------- */
(function () {
  const g = document.getElementById('panelH');
  const sx = linear(0, 16, 370.7, 528.3);
  const sy = linear(2.1, .9, 510, 635.7);
  series(g, hQuencher, hLifetime, sx, sy, '#000', 1, 'h-line');
  hQuencher.forEach((q, i) => {
    const cx = sx(q), cy = sy(hLifetime[i]);
    mk(g, 'polygon', {points:`${cx},${cy-3.2} ${cx+3.2},${cy} ${cx},${cy+3.2} ${cx-3.2},${cy}`, fill:'#000'}, 'h-point');
  });
  frame(g, 351, 499, 547.7, 657.3, 'h-plot-frame');
  xAxis(g, sx, hXTicks, hXLabels, [-1,2,6,10,14,18], 657.3, 672.5, 13.5, 'h');
  yAxis(g, sy, hYTicks, hYLabels, [1.95,1.65,1.35,1.05,.75], 351, 346.5, 13.5, 'h');
})();

/* ---------- panel i wavy ISC arrow ---------- */
(function () {
  const x0 = 232, y0 = 140, x1 = 458, y1 = 268, n = 19 * 8;
  const dx = x1 - x0, dy = y1 - y0, len = Math.hypot(dx, dy);
  let d = '';
  for (let i = 0; i <= n; i++) {
    const f = i / n, off = 3.8 * Math.sin(f * 19 * 2 * Math.PI);
    d += (i ? 'L' : 'M') + (x0 + dx*f - dy/len*off).toFixed(1) + ',' + (y0 + dy*f + dx/len*off).toFixed(1) + ' ';
  }
  document.getElementById('iscWave').setAttribute('d', d);
})();
</script>
</body>
</html>
